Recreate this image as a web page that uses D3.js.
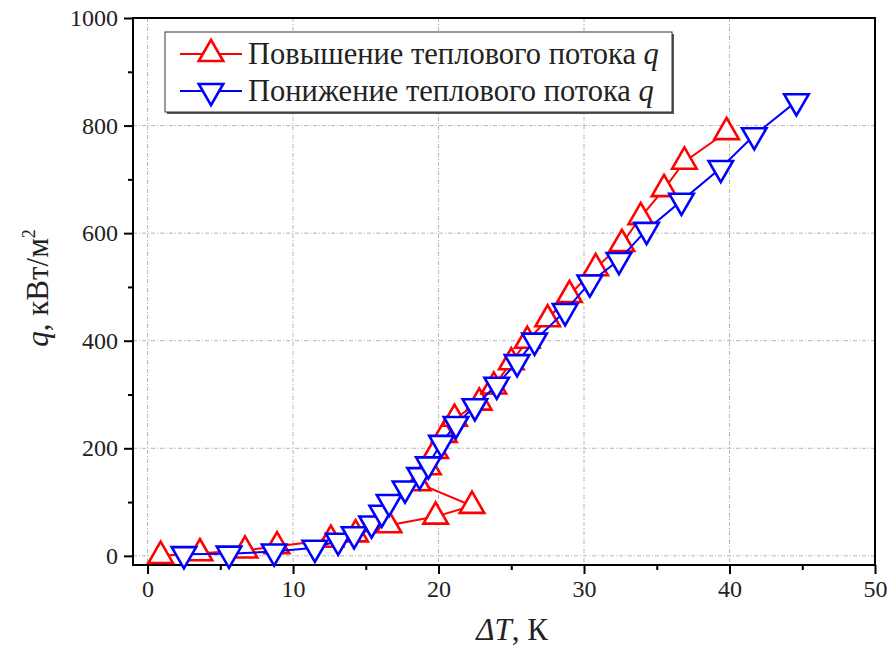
<!DOCTYPE html>
<html>
<head>
<meta charset="utf-8">
<script src="https://cdn.jsdelivr.net/npm/d3@7"></script>
<style>
  body { margin: 0; background: #fff; }
  text { font-family: "Liberation Serif", "Times New Roman", serif; }
</style>
</head>
<body>
<div id="chart"></div>
<script>
// increasing heat flux (red, up triangles)
var riseDT = [0.9, 3.6, 6.7, 8.9, 12.6, 14.3, 16.6, 19.8, 22.3, 18.6, 19.3, 19.8, 20.4, 21.1, 22.8, 23.8, 25.0, 26.1, 27.5, 29.0, 30.8, 32.6, 33.9, 35.5, 36.9, 39.8];
var riseQ  = [0, 5, 10, 18, 30, 40, 57, 73, 93, 135, 165, 195, 225, 255, 285, 315, 360, 400, 440, 485, 535, 580, 630, 682, 733, 788];
// decreasing heat flux (blue, down triangles)
var fallDT = [2.5, 5.6, 8.7, 11.5, 13.1, 14.2, 15.4, 16.1, 16.6, 17.7, 18.7, 19.3, 20.2, 21.2, 22.5, 24.0, 25.4, 26.6, 28.7, 30.4, 32.4, 34.3, 36.7, 39.4, 41.7, 44.6];
var fallQ  = [3, 4, 8, 15, 28, 40, 60, 80, 100, 125, 150, 170, 210, 245, 278, 318, 360, 400, 455, 508, 550, 606, 660, 721, 782, 845];

var xTicks = [0, 10, 20, 30, 40, 50];
var yTicks = [0, 200, 400, 600, 800, 1000];
var legendNames = ["Повышение теплового потока ", "Понижение теплового потока "];

var width = 891, height = 646;
var pLeft = 133, pRight = 875, pTop = 18, pBottom = 565;

var svg = d3.select("#chart").append("svg")
    .attr("width", width)
    .attr("height", height);

var x = d3.scaleLinear().domain([-1, 50]).range([pLeft, pRight]);
var y = d3.scaleLinear().domain([-17, 1000]).range([pBottom, pTop]);

// grid lines
var grid = svg.append("g").attr("stroke", "#b4b4b4").attr("stroke-width", 1).attr("stroke-dasharray", "4,2,1,2");
grid.selectAll(".gx").data(xTicks.slice(0, 5)).enter().append("line")
    .attr("x1", function(d) { return x(d); }).attr("x2", function(d) { return x(d); })
    .attr("y1", pTop).attr("y2", pBottom);
grid.selectAll(".gy").data(yTicks.slice(0, 5)).enter().append("line")
    .attr("y1", function(d) { return y(d); }).attr("y2", function(d) { return y(d); })
    .attr("x1", pLeft).attr("x2", pRight);

// frame
svg.append("rect")
    .attr("x", pLeft).attr("y", pTop)
    .attr("width", pRight - pLeft).attr("height", pBottom - pTop)
    .attr("fill", "none").attr("stroke", "#000").attr("stroke-width", 2);

// axes
svg.append("g").attr("transform", "translate(0," + pBottom + ")")
    .call(d3.axisBottom(x).tickValues(xTicks).tickSize(9).tickPadding(6).tickFormat(d3.format("d")));
svg.append("g").attr("transform", "translate(0," + pBottom + ")")
    .call(d3.axisBottom(x).tickValues([5, 15, 25, 35, 45]).tickSize(5).tickFormat(""));
svg.append("g").attr("transform", "translate(" + pLeft + ",0)")
    .call(d3.axisLeft(y).tickValues(yTicks).tickSize(9).tickPadding(6).tickFormat(d3.format("d")));
svg.append("g").attr("transform", "translate(" + pLeft + ",0)")
    .call(d3.axisLeft(y).tickValues([100, 300, 500, 700, 900]).tickSize(5).tickFormat(""));

svg.selectAll(".domain").remove();
svg.selectAll(".tick line").attr("stroke", "#000").attr("stroke-width", 2);
svg.selectAll(".tick text").attr("fill", "#222")
    .style("font-size", "24px")
    .style("font-family", "'Liberation Serif', serif");

// axis titles
var xt = svg.append("text").attr("x", 512).attr("y", 640)
    .attr("text-anchor", "middle").attr("font-size", 31).attr("fill", "#222");
xt.append("tspan").attr("font-style", "italic").text("ΔT");
xt.append("tspan").text(", К");

var yt = svg.append("text")
    .attr("transform", "translate(48," + 288 + ") rotate(-90)")
    .attr("text-anchor", "middle").attr("font-size", 31).attr("fill", "#222");
yt.append("tspan").attr("font-style", "italic").text("q");
yt.append("tspan").text(", кВт/м");
yt.append("tspan").attr("font-size", 18).attr("dy", -13).text("2");

// series
var tri = d3.symbol().type(d3.symbolTriangle).size(260);
var series = [
    { dt: riseDT, q: riseQ, color: "#ff0000", rot: 0 },
    { dt: fallDT, q: fallQ, color: "#0000ff", rot: 180 }
];

var line = d3.line()
    .x(function(d) { return x(d[0]); })
    .y(function(d) { return y(d[1]); });

series.forEach(function(s) {
    var pts = s.dt.map(function(d, i) { return [d, s.q[i]]; });
    var g = svg.append("g");
    g.append("path").datum(pts)
        .attr("d", line)
        .attr("fill", "none").attr("stroke", s.color).attr("stroke-width", 2);
    g.selectAll("path.m").data(pts).enter().append("path")
        .attr("class", "m")
        .attr("d", tri)
        .attr("transform", function(d) {
            return "translate(" + x(d[0]) + "," + y(d[1]) + ") rotate(" + s.rot + ")";
        })
        .attr("fill", "#fff").attr("stroke", s.color).attr("stroke-width", 2.6);
});

// legend
var lg = svg.append("g");
lg.append("rect").attr("x", 167).attr("y", 34).attr("width", 507).attr("height", 80)
    .attr("fill", "#555");
lg.append("rect").attr("x", 165).attr("y", 32).attr("width", 507).attr("height", 80)
    .attr("fill", "#fff").attr("stroke", "#333").attr("stroke-width", 1);

series.forEach(function(s, i) {
    var ly = 54 + i * 37;
    lg.append("line").attr("x1", 180).attr("x2", 242).attr("y1", ly).attr("y2", ly)
        .attr("stroke", s.color).attr("stroke-width", 2);
    lg.append("path").attr("d", tri)
        .attr("transform", "translate(211," + ly + ") rotate(" + s.rot + ")")
        .attr("fill", "#fff").attr("stroke", s.color).attr("stroke-width", 2.6);
    var t = lg.append("text").attr("x", 248).attr("y", ly + 10)
        .attr("font-size", 30.5).attr("fill", "#222");
    t.append("tspan").text(legendNames[i]);
    t.append("tspan").attr("font-style", "italic").text("q");
});
</script>
</body>
</html>
